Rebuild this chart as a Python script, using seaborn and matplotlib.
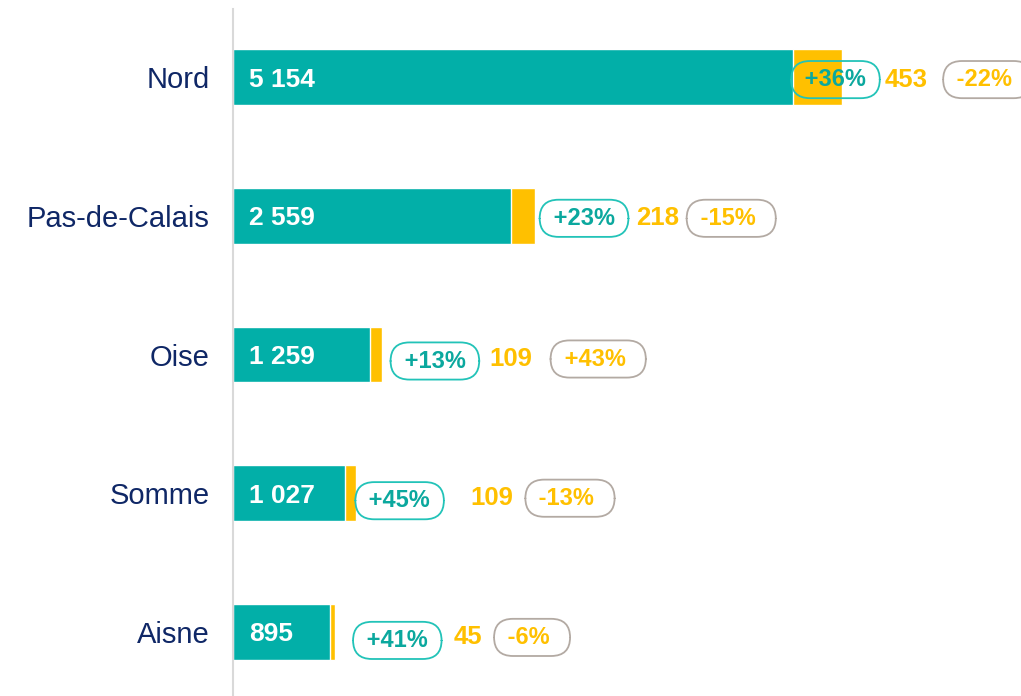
import numpy as np
import matplotlib
matplotlib.use("Agg")
import matplotlib.pyplot as plt
import seaborn as sns
import pandas as pd

# -------------------------------------------------------------------
# data
# -------------------------------------------------------------------
departements = ["Nord", "Pas-de-Calais", "Oise", "Somme", "Aisne"]
teal_values = [5154, 2559, 1259, 1027, 895]
yellow_values = [453, 218, 109, 109, 45]
teal_pct = ["+36%", "+23%", "+13%", "+45%", "+41%"]
yellow_pct = ["-22%", "-15%", "+43%", "-13%", "-6%"]

# -------------------------------------------------------------------
# style
# -------------------------------------------------------------------
TEAL = "#02AFA8"
TEAL_TXT = "#0BA89E"
TEAL_EDGE = "#22C3B8"
YELLOW = "#FFC000"
GREY_EDGE = "#B3AAA3"
NAVY = "#0F2766"

# per-row annotation layout (pixel offsets from the end of the stacked bar)
# (teal pill left, number left, grey pill left, vertical shift)
layout = [(-44, 42, 108, 0), (12, 101, 159, 0), (16, 108, 176, 4),
          (6, 114, 176, 5), (25, 118, 166, 6)]

sns.set_theme(style="white")
plt.rcParams["font.family"] = ["Liberation Sans", "DejaVu Sans"]

df = pd.DataFrame({"dep": departements, "teal": teal_values, "yellow": yellow_values})
df["total"] = df["teal"] + df["yellow"]

fig = plt.figure(figsize=(10.21, 6.96), dpi=100)
ax = fig.add_axes([233 / 1021, 0, 1 - 233 / 1021, 1 - 9 / 696])

sns.barplot(data=df, x="total", y="dep", color=YELLOW, saturation=1, width=0.4,
            orient="h", ax=ax)
sns.barplot(data=df, x="teal", y="dep", color=TEAL, saturation=1, width=0.4,
            orient="h", ax=ax)

# scale: 5154 -> 560 px
px_per_unit = 560 / 5154
ax.set_xlim(0, (1021 - 233) / px_per_unit)
spacing = 138.5
ax.set_ylim(4 + 64 / spacing, -68 / spacing)

ax.set_xlabel("")
ax.set_ylabel("")
ax.set_xticks([])
ax.tick_params(axis="y", length=0, pad=17)
for lab in ax.get_yticklabels():
    lab.set_color(NAVY)
    lab.set_fontsize(21)
    lab.set_verticalalignment("center_baseline")
for s in ["top", "right", "bottom"]:
    ax.spines[s].set_visible(False)
ax.spines["left"].set_color("#D9D9D9")
ax.spines["left"].set_linewidth(1.5)

pill = dict(boxstyle="round,pad=0.3,rounding_size=0.8", fc="none", lw=1.3)

for i, row in df.iterrows():
    ax.text(150, i, f"{row['teal']:,}".replace(",", " "), color="white",
            fontsize=19, fontweight="bold", va="center_baseline", ha="left")
    end = row["total"]
    t_off, n_off, g_off, dy = layout[i]
    ax.annotate(f" {teal_pct[i]} ", xy=(end, i), xytext=(t_off, -dy),
                textcoords="offset pixels", color=TEAL_TXT, fontsize=17,
                fontweight="bold", va="center_baseline", ha="left",
                bbox=dict(pill, ec=TEAL_EDGE), annotation_clip=False)
    ax.annotate(f"{row['yellow']}", xy=(end, i), xytext=(n_off, -dy / 2),
                textcoords="offset pixels", color=YELLOW, fontsize=18.5,
                fontweight="bold", va="center_baseline", ha="left",
                annotation_clip=False)
    ax.annotate(f" {yellow_pct[i]}  ", xy=(end, i), xytext=(g_off, -dy / 2),
                textcoords="offset pixels", color=YELLOW, fontsize=17,
                fontweight="bold", va="center_baseline", ha="left",
                bbox=dict(pill, ec=GREY_EDGE), annotation_clip=False)

fig.savefig("out.png", dpi=100)
